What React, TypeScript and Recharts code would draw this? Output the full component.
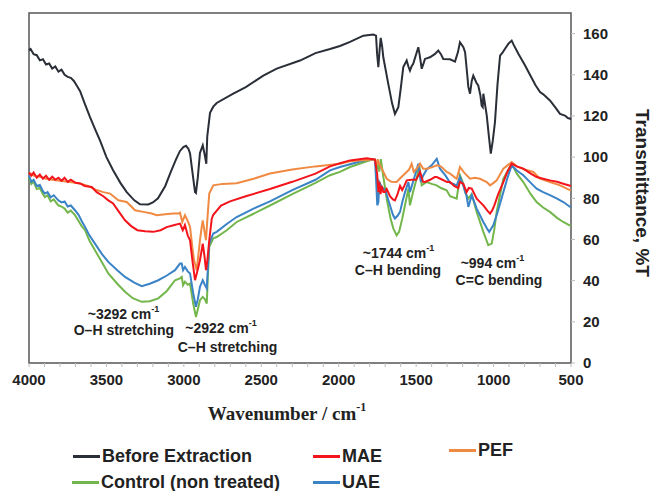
import { LineChart, Line, XAxis, YAxis, ReferenceArea, ReferenceDot } from 'recharts';

// FTIR spectra: [wavenumber cm-1, transmittance %T]
const beforeExtraction: [number, number][] = [
  [4000, 152], [3990, 152.5], [3970, 150], [3950, 149.5], [3930, 147], [3910, 147.5], [3890, 145],
  [3870, 145.5], [3850, 143], [3830, 144], [3810, 141.5], [3790, 142.5], [3770, 140], [3750, 139],
  [3730, 138.5], [3710, 137], [3690, 134.5], [3670, 132], [3640, 126], [3606, 119.4], [3570, 113],
  [3541, 108], [3500, 100], [3457, 93.6], [3410, 87.5], [3369, 83], [3320, 79], [3283, 77.1],
  [3230, 77], [3200, 78], [3167, 80], [3120, 86], [3089, 92], [3050, 99], [3025, 103], [3003, 104.9],
  [2986, 105.5], [2970, 104], [2960, 101.8], [2945, 93], [2928, 83], [2922, 82.6], [2910, 90],
  [2896, 102], [2878, 105.7], [2865, 101], [2855, 96.8], [2849, 110], [2831, 121.5], [2810, 124.5],
  [2788, 126.3], [2681, 130.8], [2600, 134], [2487, 139.6], [2400, 143], [2250, 146.9],
  [2150, 150.5], [2056, 152.5], [1992, 154], [1927, 156], [1841, 159], [1777, 159.5], [1759, 159],
  [1752, 150], [1744, 143.7], [1736, 152], [1729, 157.9], [1720, 154], [1712, 148.5], [1680, 135.6],
  [1655, 126], [1637, 121], [1615, 124.3], [1600, 133], [1583, 143.7], [1561, 146.9], [1550, 144],
  [1540, 142], [1530, 144], [1519, 145.3], [1500, 150], [1486, 153.4], [1478, 150], [1464, 142.9],
  [1450, 146], [1443, 147.7], [1411, 148.5], [1380, 150], [1357, 151.8], [1340, 150], [1325, 147.7],
  [1281, 147.5], [1249, 146.4], [1230, 151], [1217, 155.8], [1195, 153.4], [1184, 151], [1170, 140],
  [1163, 134.1], [1152, 130.8], [1141, 137], [1131, 139.6], [1110, 136], [1099, 134.8], [1085, 130],
  [1077, 125], [1070, 124.3], [1066, 130.8], [1060, 128], [1044, 120.2], [1030, 110], [1018, 101.7],
  [1005, 108], [991, 117], [975, 135], [958, 149.3], [940, 151], [926, 152.6], [905, 155], [883, 156.6],
  [870, 154.5], [851, 151.8], [840, 150.2], [800, 145], [765, 140], [730, 135], [700, 131.6],
  [679, 130.5], [636, 127.5], [600, 124], [571, 121], [539, 120.2], [520, 119], [500, 118.5],
];

const mae: [number, number][] = [
  [4000, 92.5], [3985, 91], [3970, 92.5], [3950, 90], [3930, 91.5], [3910, 89.5], [3890, 91],
  [3870, 89], [3850, 90.5], [3830, 89], [3810, 90], [3790, 88.5], [3770, 90], [3750, 88], [3730, 89],
  [3700, 87.5], [3670, 87.2], [3640, 86], [3595, 85.5], [3563, 83], [3520, 81], [3488, 79],
  [3457, 77.5], [3420, 73.5], [3380, 69.3], [3340, 66.5], [3300, 64.5], [3250, 64], [3197, 63.7],
  [3150, 64.5], [3111, 66], [3060, 67], [3025, 67.7], [3007, 64.5], [2993, 67], [2975, 62],
  [2960, 59.6], [2945, 50], [2928, 40.2], [2915, 44], [2896, 49.9], [2878, 58], [2867, 52],
  [2857, 45.1], [2848, 50], [2836, 59.6], [2820, 70], [2810, 72], [2760, 76.5], [2702, 78.5],
  [2600, 81], [2444, 84.5], [2300, 88], [2150, 92], [2056, 95.5], [1992, 97], [1927, 98.4],
  [1819, 99.5], [1766, 98.8], [1752, 92], [1744, 83], [1738, 88], [1730, 82], [1722, 86], [1712, 83],
  [1701, 83], [1690, 84.5], [1669, 81], [1650, 79.5], [1637, 79], [1620, 82], [1604, 86], [1590, 84],
  [1575, 86.3], [1561, 88.7], [1530, 89], [1500, 89], [1475, 92.8], [1455, 88], [1443, 87.9],
  [1410, 89], [1380, 90.3], [1367, 90.3], [1330, 89], [1300, 87.9], [1281, 87.9], [1255, 86],
  [1228, 85], [1217, 88], [1195, 87], [1174, 83], [1160, 85], [1141, 84.7], [1109, 79.8],
  [1066, 76.6], [1040, 74], [1023, 72.6], [1010, 74], [995, 76.6], [970, 82], [937, 87.9], [910, 93],
  [883, 96.8], [850, 95.5], [808, 94.4], [760, 92], [722, 90.3], [680, 89.5], [636, 88.7], [590, 88],
  [550, 87.1], [500, 86],
];

const pef: [number, number][] = [
  [4000, 92.5], [3970, 91], [3930, 90.5], [3890, 89.5], [3850, 89], [3800, 88.5], [3750, 88],
  [3700, 87.5], [3670, 87.2], [3620, 86], [3563, 84], [3520, 83], [3477, 82.3], [3423, 79],
  [3369, 78.2], [3315, 74.2], [3262, 73.4], [3208, 72.6], [3175, 71.8], [3120, 72.2], [3068, 72.6],
  [3036, 72.6], [3025, 73], [3010, 68.5], [2993, 71.8], [2975, 69], [2960, 66.1], [2945, 56],
  [2934, 49.9], [2917, 45.1], [2896, 59.6], [2885, 66], [2878, 69.3], [2867, 64], [2857, 59.6],
  [2848, 70], [2836, 82.3], [2810, 86.3], [2750, 87], [2659, 87.3], [2550, 89.5], [2444, 92],
  [2300, 94], [2150, 95.5], [1992, 96.8], [1927, 98], [1850, 98.5], [1766, 98.8], [1755, 96],
  [1748, 99], [1740, 97], [1722, 94.4], [1690, 89.5], [1660, 88], [1626, 87.9], [1600, 90],
  [1561, 92.8], [1545, 94], [1529, 96.8], [1515, 92.8], [1490, 95], [1475, 96.8], [1455, 94.4],
  [1432, 94.4], [1400, 95], [1367, 96], [1340, 95.5], [1303, 92.8], [1281, 92], [1238, 89.5],
  [1217, 95.2], [1195, 93], [1184, 92], [1152, 89.5], [1120, 90], [1088, 89.5], [1044, 87.9],
  [1023, 86.3], [1000, 87.5], [980, 88.7], [937, 94.4], [883, 97.6], [850, 95.5], [800, 94],
  [743, 92.8], [700, 89.5], [636, 87.9], [571, 86.3], [500, 83.7],
];

const uae: [number, number][] = [
  [4000, 91], [3985, 88], [3970, 89], [3950, 86], [3930, 86.5], [3910, 83.5], [3897, 82.3],
  [3880, 83], [3860, 80.5], [3840, 81.5], [3811, 79], [3790, 78], [3770, 78.5], [3750, 76],
  [3730, 76.5], [3703, 74.2], [3680, 72], [3660, 69], [3638, 66.1], [3610, 62], [3574, 58],
  [3530, 53], [3488, 49.1], [3430, 45], [3380, 41.8], [3320, 39], [3272, 37.3], [3220, 38.5],
  [3165, 40.2], [3110, 42.5], [3057, 45.1], [3025, 48.3], [3014, 48.3], [3005, 45.1], [2993, 46.7],
  [2975, 44.5], [2960, 43.5], [2940, 34], [2922, 27.3], [2910, 31], [2896, 37], [2878, 40.2],
  [2865, 38], [2852, 36.2], [2845, 46], [2836, 58], [2810, 62.9], [2788, 63.7], [2723, 67.5],
  [2659, 70.9], [2550, 75], [2444, 78.5], [2300, 84], [2150, 89], [2056, 93.6], [1992, 95.2],
  [1927, 96.5], [1819, 98.7], [1766, 98.8], [1758, 88], [1751, 76.6], [1744, 78], [1738, 87.9],
  [1722, 85.5], [1700, 84], [1669, 76.6], [1650, 72], [1637, 70.2], [1620, 71.5], [1604, 73.4],
  [1590, 78], [1572, 83], [1550, 87.9], [1540, 83], [1520, 88], [1500, 93], [1486, 96.8],
  [1470, 88], [1455, 91], [1432, 94], [1400, 96], [1367, 99.2], [1346, 94.4], [1310, 91],
  [1281, 87.5], [1260, 87], [1238, 86.3], [1217, 90.3], [1195, 86], [1174, 81], [1163, 75.8],
  [1141, 81.5], [1109, 75], [1066, 68.5], [1040, 65], [1028, 63.7], [1002, 66.9], [975, 73],
  [937, 83], [910, 90], [883, 96], [850, 93.5], [808, 91.2], [760, 87.5], [722, 84.7], [680, 83],
  [636, 81.5], [590, 79.8], [550, 78.2], [500, 75.5],
];

const control: [number, number][] = [
  [4000, 90.3], [3985, 87], [3970, 88], [3950, 84.5], [3930, 85], [3910, 82], [3897, 80.6],
  [3880, 81.5], [3860, 78.5], [3840, 79.5], [3811, 76.6], [3790, 76], [3770, 75], [3750, 73],
  [3730, 74], [3703, 71.8], [3680, 69], [3660, 66.5], [3638, 64.5], [3610, 59.5], [3574, 54.8],
  [3530, 49], [3488, 43.5], [3430, 38.5], [3380, 34.6], [3330, 31.5], [3272, 29.7], [3220, 30],
  [3165, 31.4], [3110, 35], [3057, 40.2], [3025, 41.1], [3014, 41.8], [3005, 37.8], [2993, 39.5],
  [2975, 38], [2960, 38.6], [2940, 29], [2922, 22.4], [2910, 26], [2896, 30.5], [2878, 32.1],
  [2865, 31], [2852, 28.9], [2845, 42], [2836, 56.4], [2810, 60.5], [2788, 61.2], [2723, 64.5],
  [2659, 68.5], [2550, 72.5], [2444, 76.5], [2300, 82], [2150, 87.5], [2056, 91.2], [1992, 92.8],
  [1927, 95.2], [1819, 98], [1777, 99], [1766, 98.5], [1755, 94], [1748, 98], [1738, 93],
  [1728, 99], [1715, 92], [1690, 79.8], [1665, 70], [1647, 65.3], [1626, 62], [1610, 63.7],
  [1590, 70], [1572, 76.6], [1550, 84.7], [1540, 76.6], [1520, 83], [1497, 89.5], [1480, 96],
  [1464, 86.3], [1432, 87.9], [1400, 87], [1367, 86.3], [1340, 85], [1303, 83.9], [1281, 81],
  [1238, 79.8], [1217, 91.2], [1195, 87], [1184, 83], [1163, 79.8], [1141, 82], [1109, 73.4],
  [1066, 63.7], [1034, 57.2], [1012, 58], [995, 65], [980, 73.4], [960, 81], [937, 89.5],
  [883, 96.8], [850, 92], [808, 87.9], [760, 82], [722, 78.2], [680, 75.5], [636, 73.4],
  [590, 70.5], [550, 68.5], [500, 66.5],
];

const xTicks = Array.from({ length: 36 }, (_, i) => 500 + i * 100);
const yTicks = [0, 20, 40, 60, 80, 100, 120, 140, 160];

const annotations = [
  { w: 3390, t: 23.8, text: '~3292 cm', sup: '-1' },
  { w: 3387, t: 16, text: 'O–H stretching' },
  { w: 2760, t: 17, text: '~2922 cm', sup: '-1' },
  { w: 2718, t: 7.8, text: 'C–H stretching' },
  { w: 1614, t: 53.3, text: '~1744 cm', sup: '-1' },
  { w: 1617, t: 45.1, text: 'C–H bending' },
  { w: 1007, t: 48.5, text: '~994 cm', sup: '-1' },
  { w: 965, t: 40.2, text: 'C=C bending' },
];

const series = [
  { name: 'Control (non treated)', color: '#73b64b', data: control },
  { name: 'UAE', color: '#3a83c6', data: uae },
  { name: 'PEF', color: '#f08a43', data: pef },
  { name: 'MAE', color: '#f3151b', data: mae },
  { name: 'Before Extraction', color: '#2a2e37', data: beforeExtraction },
];

const legendPos: Record<string, { left: number; top: number }> = {
  'Before Extraction': { left: 73, top: 456 },
  MAE: { left: 313, top: 456 },
  PEF: { left: 449, top: 450 },
  'Control (non treated)': { left: 72, top: 482 },
  UAE: { left: 313, top: 482 },
};

const sans = '"Liberation Sans", Arial, sans-serif';

export default function App() {
  return (
    <div style={{ position: 'absolute', left: 0, top: 0, width: 665, height: 491, background: '#fff', fontFamily: sans }}>
      <LineChart width={665} height={491} margin={{ top: 13, right: 44, bottom: 103, left: 29 }}>
        <XAxis
          dataKey="w"
          type="number"
          domain={[500, 4000]}
          reversed
          ticks={xTicks}
          interval={0}
          tickFormatter={(v: number) => (v % 500 === 0 ? String(v) : '')}
          height={25}
          axisLine={false}
          tickLine={{ stroke: '#bbb' }}
          tickSize={4}
          tickMargin={7}
          tick={{ fill: '#222', fontSize: 15, fontWeight: 700, fontFamily: sans }}
          label={{
            content: ({ viewBox }: any) => (
              <text
                x={viewBox.x + viewBox.width / 2 - 13}
                y={413}
                textAnchor="middle"
                dominantBaseline="central"
                fill="#222"
                style={{ fontFamily: '"Liberation Serif", "Times New Roman", serif', fontSize: 19, fontWeight: 700 }}
              >
                Wavenumber / cm<tspan dy={-6} fontSize={12}>-1</tspan>
              </text>
            ),
          }}
        />
        <YAxis
          orientation="right"
          type="number"
          domain={[0, 170]}
          ticks={yTicks}
          width={50}
          axisLine={false}
          tickLine={{ stroke: '#bbb' }}
          tickSize={4}
          tickMargin={8}
          tick={{ fill: '#222', fontSize: 15, fontWeight: 700, fontFamily: sans }}
          label={{
            content: ({ viewBox }: any) => {
              const x = viewBox.x + viewBox.width + 21;
              const y = viewBox.y + viewBox.height / 2 + 5;
              return (
                <text
                  x={x}
                  y={y}
                  transform={`rotate(90, ${x}, ${y})`}
                  textAnchor="middle"
                  dominantBaseline="central"
                  fill="#222"
                  style={{ fontFamily: sans, fontSize: 19, fontWeight: 700 }}
                >
                  Transmittance, %T
                </text>
              );
            },
          }}
        />
        <ReferenceArea x1={4000} x2={500} y1={0} y2={170} fill="none" stroke="#555" strokeWidth={1.5} />
        {series.map((s) => (
          <Line
            key={s.name}
            name={s.name}
            data={s.data.map(([w, t]) => ({ w, t }))}
            dataKey="t"
            type="linear"
            dot={false}
            stroke={s.color}
            strokeWidth={2}
            isAnimationActive={false}
          />
        ))}
        {annotations.map((a) => (
          <ReferenceDot
            key={a.text + a.w}
            x={a.w}
            y={a.t}
            r={0}
            shape={(p: any) => (
              <text
                x={p.cx}
                y={p.cy}
                textAnchor="middle"
                dominantBaseline="central"
                fill="#222"
                style={{ fontFamily: sans, fontSize: 14, fontWeight: 700 }}
              >
                {a.text}
                {a.sup && <tspan dy={-5} fontSize={9}>{a.sup}</tspan>}
              </text>
            )}
          />
        ))}
      </LineChart>
      {series.map((s) => {
        const pos = legendPos[s.name];
        return (
          <div
            key={s.name}
            style={{
              position: 'absolute',
              left: pos.left,
              top: pos.top - 11,
              height: 22,
              display: 'flex',
              alignItems: 'center',
              fontSize: 18,
              fontWeight: 700,
              color: '#222',
              whiteSpace: 'nowrap',
            }}
          >
            <span style={{ display: 'inline-block', width: 27, height: 3, background: s.color, marginRight: 2 }} />
            {s.name}
          </div>
        );
      })}
    </div>
  );
}
